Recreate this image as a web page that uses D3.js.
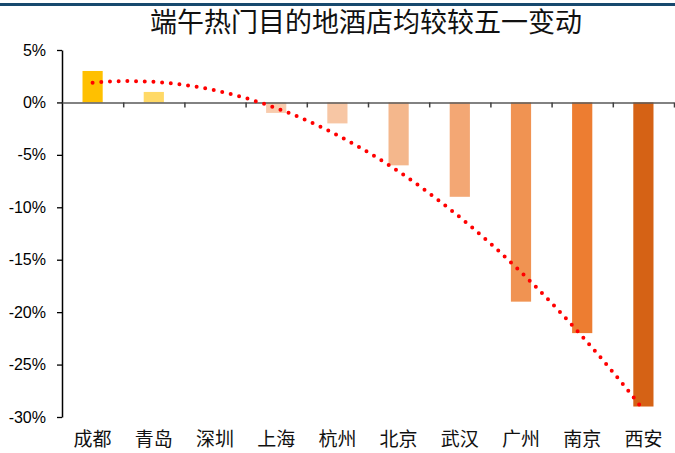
<!DOCTYPE html>
<html>
<head>
<meta charset="utf-8">
<script src="https://cdn.jsdelivr.net/npm/d3@7/dist/d3.min.js"></script>
<style>
  html, body { margin: 0; padding: 0; background: #fff; }
  svg { display: block; }
</style>
</head>
<body>
<svg id="chart" width="675" height="453"></svg>
<script>
// City categories and change vs. the May Day holiday (%)
const cities = ["成都", "青岛", "深圳", "上海", "杭州", "北京", "武汉", "广州", "南京", "西安"];
const changes = [3, 1, 0, -1, -2, -6, -9, -19, -22, -29];
const barColors = ["#FFC000", "#FFD966", "#F8CBAD", "#F8CBAD", "#F7C6A4", "#F4B78C", "#F3A774", "#F09352", "#ED7D31", "#D56215"];
const yTicks = [5, 0, -5, -10, -15, -20, -25, -30];
const title = "端午热门目的地酒店均较较五一变动";

const svg = d3.select("#chart");
const W = 675, H = 453;
const plotL = 62, plotR = 674, plotT = 50, plotB = 417;

// Header rule
svg.append("rect").attr("x", 0).attr("y", 3).attr("width", W).attr("height", 3).attr("fill", "#17496E");

svg.append("text")
  .attr("x", 366).attr("y", 25)
  .attr("text-anchor", "middle").attr("dominant-baseline", "middle")
  .attr("font-family", "'Noto Sans CJK SC', sans-serif")
  .attr("font-size", 27).attr("fill", "#111")
  .text(title);

const x = d3.scaleBand().domain(cities).range([plotL, plotR]).padding(0);
const y = d3.scaleLinear().domain([-30, 5]).range([plotB, plotT]);
const barW = x.bandwidth() * 0.33;

// Bars
svg.append("g").selectAll("rect").data(cities).join("rect")
  .attr("x", (d) => x(d) + (x.bandwidth() - barW) / 2)
  .attr("y", (d, i) => y(Math.max(0, changes[i])))
  .attr("width", barW)
  .attr("height", (d, i) => Math.abs(y(changes[i]) - y(0)))
  .attr("fill", (d, i) => barColors[i]);

// Y axis
const yAxis = svg.append("g").attr("transform", `translate(${plotL},0)`)
  .call(d3.axisLeft(y).tickValues(yTicks).tickSize(5).tickSizeOuter(0).tickPadding(11)
    .tickFormat((d) => d + "%"));
yAxis.select(".domain").attr("stroke", "#000").attr("stroke-width", 1.5);
yAxis.selectAll(".tick line").attr("stroke", "#000").attr("stroke-width", 1.3);
yAxis.selectAll(".tick text")
  .attr("font-family", "'Liberation Sans', Arial, sans-serif")
  .attr("font-size", 16).attr("fill", "#000");

// Zero baseline with category boundary ticks
const boundaries = cities.map((c) => x(c) + x.bandwidth());
const xb = d3.scaleLinear().domain([plotL, plotR]).range([plotL, plotR]);
const xAxis = svg.append("g").attr("transform", `translate(0,${y(0)})`)
  .call(d3.axisBottom(xb).tickValues(boundaries).tickSize(5).tickSizeOuter(0).tickFormat(""));
xAxis.select(".domain").attr("stroke", "#595959").attr("stroke-width", 1.5);
xAxis.selectAll(".tick line").attr("stroke", "#404040").attr("stroke-width", 1.5);

// Category labels
svg.append("g").selectAll("text").data(cities).join("text")
  .attr("x", (d) => x(d) + x.bandwidth() / 2)
  .attr("y", 441)
  .attr("text-anchor", "middle").attr("dominant-baseline", "middle")
  .attr("font-family", "'Noto Sans CJK SC', sans-serif")
  .attr("font-size", 19).attr("fill", "#111")
  .text((d) => d);

// Second-order polynomial trend (least squares over category index)
function polyFit2(ys) {
  const s = [0, 0, 0, 0, 0], t = [0, 0, 0];
  ys.forEach((v, i) => {
    for (let k = 0; k <= 4; k++) s[k] += Math.pow(i, k);
    for (let k = 0; k <= 2; k++) t[k] += v * Math.pow(i, k);
  });
  const A = [[s[0], s[1], s[2]], [s[1], s[2], s[3]], [s[2], s[3], s[4]]];
  const det = (m) => m[0][0] * (m[1][1] * m[2][2] - m[1][2] * m[2][1])
    - m[0][1] * (m[1][0] * m[2][2] - m[1][2] * m[2][0])
    + m[0][2] * (m[1][0] * m[2][1] - m[1][1] * m[2][0]);
  const D = det(A);
  const coef = [0, 1, 2].map((c) => {
    const M = A.map((row, r) => row.map((v, k) => (k === c ? t[r] : v)));
    return det(M) / D;
  });
  return (xi) => coef[0] + coef[1] * xi + coef[2] * xi * xi;
}
const trend = polyFit2(changes);
const trendPts = d3.range(0, cities.length - 1 + 0.001, 0.05).map((i) => [i, trend(i)]);
const xi = d3.scaleLinear().domain([0, cities.length - 1])
  .range([x(cities[0]) + x.bandwidth() / 2, x(cities[cities.length - 1]) + x.bandwidth() / 2]);

svg.append("path")
  .datum(trendPts)
  .attr("d", d3.line().x((d) => xi(d[0])).y((d) => y(d[1])))
  .attr("fill", "none")
  .attr("stroke", "#FF0000")
  .attr("stroke-width", 4)
  .attr("stroke-linecap", "round")
  .attr("stroke-dasharray", "0 8.7");
</script>
</body>
</html>
